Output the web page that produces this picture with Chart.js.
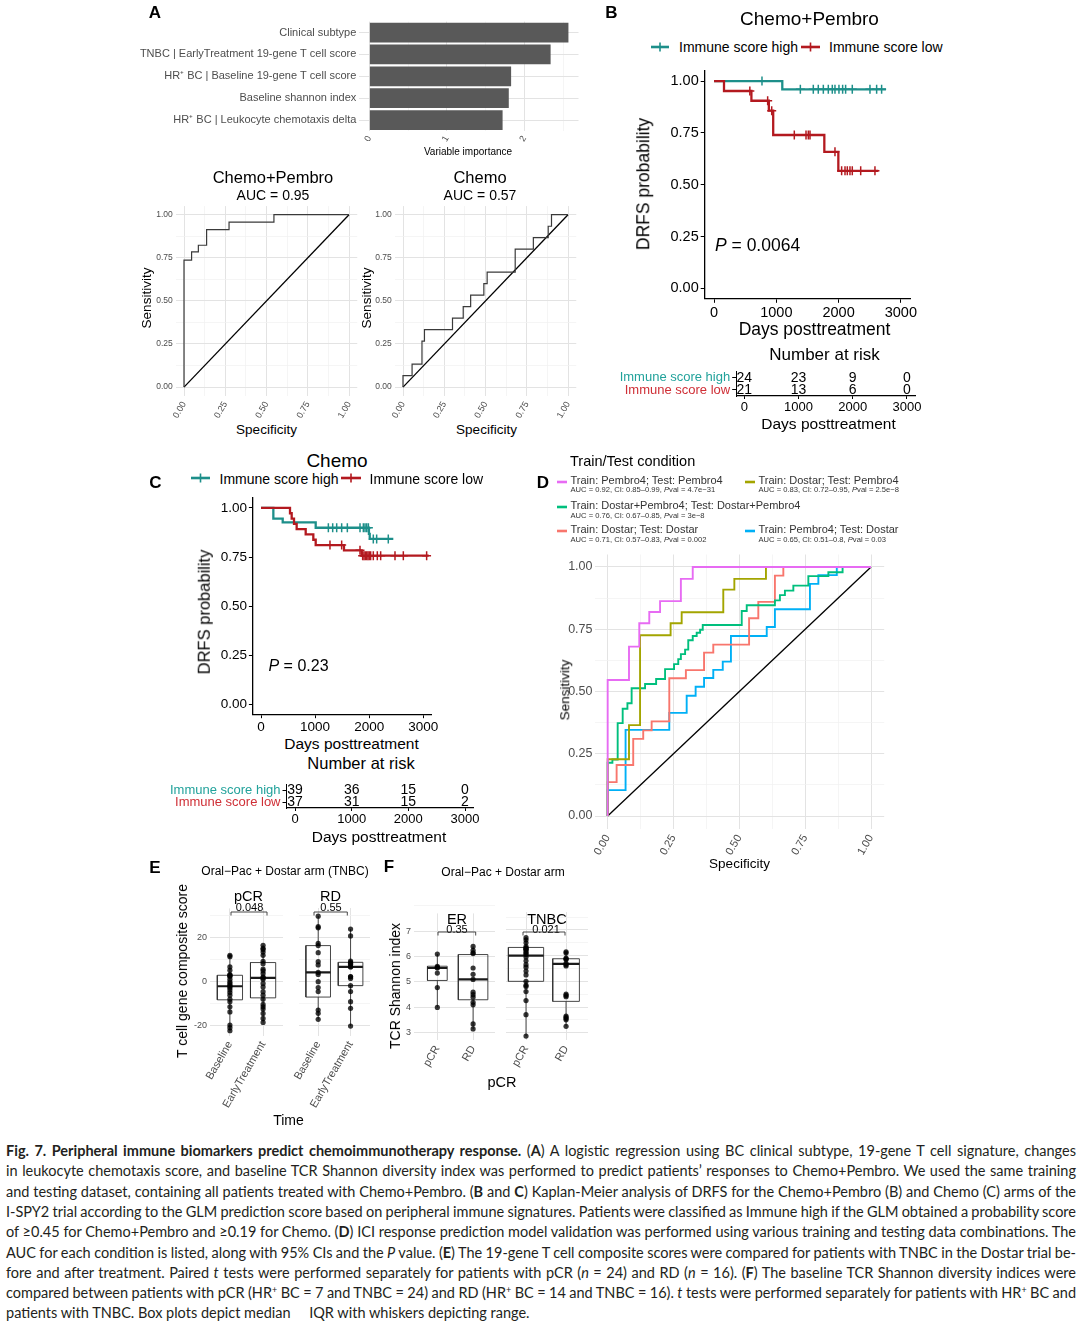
<!DOCTYPE html>
<html><head><meta charset="utf-8">
<script src="https://cdn.jsdelivr.net/npm/chart.js@4.4.1/dist/chart.umd.min.js"></script>
<style>
html,body{margin:0;padding:0;background:#fff;}
#fig{position:relative;width:1080px;height:1327px;overflow:hidden;font-family:"Liberation Sans",Arial,sans-serif;color:#000;}
.t{position:absolute;white-space:nowrap;line-height:1;}
.cap{position:absolute;left:6px;white-space:nowrap;font-family:Lato,"Open Sans",sans-serif;font-size:14.5px;line-height:1;color:#231f20;}
.cap sup{font-size:0.62em;line-height:0;vertical-align:0.5em;}
</style></head><body><div id="fig"></div>
<script>
// ================= DATA =================
// Panel A: variable importance
const impLabels = ["Clinical subtype", "TNBC | EarlyTreatment 19-gene T cell score", "HR\u207A BC | Baseline 19-gene T cell score", "Baseline shannon index", "HR\u207A BC | Leukocyte chemotaxis delta"];
const impValues = [2.57, 2.34, 1.83, 1.80, 1.72];
const impTicks = [0, 1, 2];

// ROC curves (Specificity axis, Sensitivity axis) - staircase corners
const rocTicks = [0, 0.25, 0.5, 0.75, 1];
const rocCPx = [0, 0.046, 0.087, 0.137, 0.273, 0.545, 1];
const rocCPy = [0, 0.737, 0.785, 0.823, 0.913, 0.957, 1];
const rocChx = [0, 0.055, 0.115, 0.13, 0.30, 0.365, 0.41, 0.49, 0.51, 0.68, 0.79, 0.88, 0.90, 1];
const rocChy = [0, 0.067, 0.133, 0.267, 0.333, 0.40, 0.467, 0.533, 0.60, 0.667, 0.80, 0.867, 0.933, 1];

// Kaplan-Meier (days, DRFS probability)
const kmTicks = [0, 1000, 2000, 3000];
const survTicks = [0, 0.25, 0.5, 0.75, 1];
const bHighT = [0, 1096, 2760];
const bHighS = [1, 0.960, 0.960];
const bHighCens = [770, 1386, 1594, 1674, 1755, 1835, 1899, 1942, 2006, 2065, 2113, 2220, 2504, 2611, 2691];
const bLowT = [0, 160, 600, 880, 950, 1771, 1996, 2638];
const bLowS = [1, 0.952, 0.905, 0.857, 0.740, 0.659, 0.567, 0.567];
const bLowCens = [575, 861, 926, 1289, 1477, 1514, 1541, 1942, 2049, 2103, 2140, 2183, 2220, 2355, 2584];
const cHighT = [0, 228, 401, 1011, 1995, 2010, 2446];
const cHighS = [1, 0.946, 0.926, 0.899, 0.868, 0.842, 0.842];
const cHighCens = [1245, 1325, 1399, 1491, 1596, 1830, 1892, 1923, 1954, 1985, 2076, 2138, 2353];
const cLowT = [0, 536, 567, 610, 659, 826, 967, 1011, 1534, 1861, 3100];
const cLowS = [1, 0.973, 0.946, 0.919, 0.892, 0.865, 0.838, 0.811, 0.784, 0.757, 0.757];
const cLowCens = [1275, 1491, 1830, 1879, 1904, 1929, 1954, 1978, 2002, 2027, 2076, 2150, 2212, 2477, 2631, 3062];

// Number at risk
const riskTimes = [0, 1000, 2000, 3000];
const riskGroups = ["Immune score high", "Immune score low"];
const riskHighB = [24, 23, 9, 0];
const riskLowB = [21, 13, 6, 0];
const riskHighC = [39, 36, 15, 0];
const riskLowC = [37, 31, 15, 2];

// Panel D ROC curves
const dNames = ["Train: Pembro4; Test: Pembro4", "Train: Dostar; Test: Pembro4", "Train: Dostar+Pembro4; Test: Dostar+Pembro4", "Train: Dostar; Test: Dostar", "Train: Pembro4; Test: Dostar"];
const dStats = ["AUC = 0.92, CI: 0.85\u20130.99, <i>P</i>val = 4.7e\u221231", "AUC = 0.83, CI: 0.72\u20130.95, <i>P</i>val = 2.5e\u22128", "AUC = 0.76, CI: 0.67\u20130.85, <i>P</i>val = 3e\u22128", "AUC = 0.71, CI: 0.57\u20130.83, <i>P</i>val = 0.002", "AUC = 0.65, CI: 0.51\u20130.8, <i>P</i>val = 0.03"];
const dPembroX = [0, 0.081, 0.12, 0.158, 0.199, 0.278, 0.323, 1];
const dPembroY = [0, 0.546, 0.68, 0.774, 0.819, 0.863, 0.952, 1];
const dDosPemX = [0, 0.081, 0.123, 0.239, 0.281, 0.439, 0.481, 0.601, 1];
const dDosPemY = [0, 0.228, 0.365, 0.726, 0.774, 0.818, 0.909, 0.952, 1];
const dBothX = [0, 0.018, 0.038, 0.057, 0.075, 0.091, 0.142, 0.184, 0.218, 0.252, 0.268, 0.278, 0.294, 0.306, 0.323, 0.338, 0.351, 0.361, 0.509, 0.528, 0.635, 0.654, 0.673, 0.705, 0.762, 0.838, 0.892, 1];
const dBothY = [0, 0.214, 0.227, 0.373, 0.431, 0.453, 0.513, 0.53, 0.55, 0.59, 0.61, 0.63, 0.65, 0.668, 0.706, 0.723, 0.736, 0.748, 0.767, 0.823, 0.846, 0.866, 0.887, 0.905, 0.925, 0.963, 0.979, 1];
const dDostarX = [0, 0.034, 0.097, 0.135, 0.167, 0.234, 0.297, 0.366, 0.401, 0.537, 0.572, 0.635, 0.667, 1];
const dDostarY = [0, 0.136, 0.205, 0.31, 0.344, 0.38, 0.553, 0.586, 0.656, 0.688, 0.794, 0.86, 0.965, 1];
const dPemDosX = [0, 0.068, 0.234, 0.3, 0.334, 0.366, 0.401, 0.437, 0.468, 0.604, 0.635, 0.768, 0.8, 0.87, 1];
const dPemDosY = [0, 0.104, 0.346, 0.414, 0.483, 0.519, 0.554, 0.587, 0.62, 0.723, 0.759, 0.83, 0.932, 0.967, 1];

// Panel E: T cell composite score  [min, q1, median, q3, max] and points
const eCats = ["Baseline", "EarlyTreatment"];
const eTicks = [-20, 0, 20];
const ePcrBaseStats = [-22.6, -8.5, -2.3, 2.7, 11.8];
const ePcrBasePts = [11.8, 11.2, 6.5, 5, 3, 2.8, 2.4, 2.2, 0.9, -0.3, -1, -1.8, -2.3, -3, -4, -5.2, -6.4, -8.2, -9.4, -11.7, -14, -20, -21.2, -22.6];
const ePcrEarlyStats = [-18.8, -7.6, 1.5, 8.5, 16.4];
const ePcrEarlyPts = [16.4, 15, 14.5, 13.3, 11.8, 9.1, 8, 5.5, 4.7, 3.5, 2, 1.5, 0.9, -1, -2.6, -4.8, -6.4, -8.2, -10.6, -11.7, -12.7, -14.7, -17, -18.8];
const eRdBaseStats = [-17.4, -7.3, 3.9, 16.1, 29.5];
const eRdBasePts = [29.5, 24.7, 24.2, 17.1, 16.1, 12.9, 8.8, 7.3, 3.9, 3, -0.3, -3, -4.8, -13.2, -14.7, -17.4];
const eRdEarlyStats = [-20.5, -2.1, 6.4, 8.5, 23.6];
const eRdEarlyPts = [23.6, 20.5, 9.1, 8.5, 8.0, 7.6, 6.5, 6.4, 2, 1.9, 1.2, -2.1, -4.8, -9.4, -12.4, -20.5];

// Panel F: TCR Shannon index
const fCats = ["pCR", "RD"];
const fTicks = [3, 4, 5, 6, 7];
const fErPcrStats = [4.0, 5.06, 5.55, 5.62, 6.1];
const fErPcrPts = [6.1, 5.62, 5.58, 5.55, 5.35, 4.78, 4.0];
const fErRdStats = [3.15, 4.3, 5.1, 6.08, 6.4];
const fErRdPts = [6.4, 6.25, 6.15, 6.12, 5.55, 5.3, 5.1, 4.6, 4.5, 4.4, 4.2, 4.1, 3.35, 3.15];
const fTnPcrStats = [2.87, 5.0, 6.0, 6.32, 6.7];
const fTnPcrPts = [6.7, 6.62, 6.5, 6.35, 6.3, 6.28, 6.25, 6.22, 6.15, 6.1, 6.05, 5.95, 5.8, 5.65, 5.55, 5.4, 5.25, 5.0, 4.85, 4.8, 4.6, 4.25, 3.7, 2.87];
const fTnRdStats = [3.25, 4.22, 5.68, 5.88, 6.15];
const fTnRdPts = [6.15, 6.1, 5.9, 5.88, 5.85, 5.7, 5.65, 5.6, 4.5, 4.45, 4.4, 3.65, 3.6, 3.55, 3.5, 3.25];

// ================= STYLE / HELPERS =================
const TEAL = '#1d8f8a', RED = '#b3191f', TEAL_T = '#22a29b', RED_T = '#cf2f36';
const D_COLORS = ['#E76BF3', '#A3A500', '#00BF7D', '#F8766D', '#00B0F6'];
const fig = document.getElementById('fig');
const FONT = '"Liberation Sans", Arial, sans-serif';
Chart.defaults.font.family = FONT;
Chart.defaults.color = '#4d4d4d';
Chart.defaults.animation = false;
Chart.defaults.events = [];
Chart.defaults.plugins.legend.display = false;
Chart.defaults.plugins.tooltip.enabled = false;

function T(html, x, y, o) {
  o = o || {};
  const d = document.createElement('div');
  d.className = 't';
  d.innerHTML = html;
  d.style.left = x + 'px'; d.style.top = y + 'px';
  d.style.fontSize = (o.size || 12) + 'px';
  if (o.color) d.style.color = o.color;
  if (o.bold) d.style.fontWeight = 'bold';
  const ax = o.align === 'l' ? '0%' : (o.align === 'r' ? '-100%' : '-50%');
  d.style.transform = 'translate(' + ax + ',-50%)' + (o.rot ? ' rotate(' + o.rot + 'deg)' : '');
  fig.appendChild(d);
  return d;
}
function svgEl(x, y, w, h, inner) {
  const s = document.createElementNS('http://www.w3.org/2000/svg', 'svg');
  s.setAttribute('width', w); s.setAttribute('height', h);
  s.style.cssText = 'position:absolute;left:' + x + 'px;top:' + y + 'px;overflow:visible;';
  s.innerHTML = inner;
  fig.appendChild(s);
}
function key(x1, x2, y, color, w, plus) {
  const m = (x2 - x1) / 2;
  let inner = '<line x1="0" y1="0" x2="' + (x2 - x1) + '" y2="0" stroke="' + color + '" stroke-width="' + w + '"/>';
  if (plus) inner += '<line x1="' + m + '" y1="-4.5" x2="' + m + '" y2="4.5" stroke="' + color + '" stroke-width="1.6"/>';
  svgEl(x1, y, x2 - x1, 1, inner);
}
function bracket(x1, x2, y) {
  svgEl(x1, y, x2 - x1, 4, '<path d="M0 3.5 L0 0 L' + (x2 - x1) + ' 0 L' + (x2 - x1) + ' 3.5" fill="none" stroke="#333" stroke-width="0.9"/>');
}
const ticksAt = vals => s => { s.ticks = vals.map(v => ({ value: v })); };
const isIn = (v, arr) => arr.some(a => Math.abs(a - v) < 1e-9);
const withMinors = maj => { const r = []; maj.forEach((v, i) => { r.push(v); if (i < maj.length - 1) r.push((v + maj[i + 1]) / 2); }); return r; };
const mgrid = maj => ({
  drawTicks: false,
  color: c => (c.tick && isIn(c.tick.value, maj)) ? '#e3e3e3' : '#f1f1f1',
  lineWidth: c => (c.tick && isIn(c.tick.value, maj)) ? 1 : 0.7
});
const xy = (xs, ys) => xs.map((x, i) => ({ x: x, y: ys[i] }));
function survAt(T_, S_, t) { let s = S_[0]; for (let i = 0; i < T_.length; i++) { if (T_[i] <= t) s = S_[i]; } return s; }

function mk(box, plot, cfg) {
  const d = document.createElement('div');
  d.style.cssText = 'position:absolute;left:' + box.l + 'px;top:' + box.t + 'px;width:' + (box.r - box.l) + 'px;height:' + (box.b - box.t) + 'px;';
  const c = document.createElement('canvas');
  d.appendChild(c); fig.appendChild(d);
  const o = cfg.options;
  o.responsive = true; o.maintainAspectRatio = false; o.animation = false;
  o.layout = { padding: { left: 0, right: box.r - plot.r, top: plot.t - box.t, bottom: 0 } };
  o.scales.x.afterFit = s => { s.height = box.b - plot.b; };
  o.scales.y.afterFit = s => { s.width = plot.l - box.l; };
  return new Chart(c, cfg);
}

// ================= PANEL A =================
mk({ l: 130, t: 12, r: 598, b: 160 }, { l: 359.3, t: 21, r: 578.5, b: 131 }, {
  type: 'bar',
  data: { labels: impLabels, datasets: [{ data: impValues, backgroundColor: '#595959', barPercentage: 0.9, categoryPercentage: 1 }] },
  options: {
    indexAxis: 'y',
    scales: {
      x: { type: 'linear', min: -0.13, max: 2.7, afterBuildTicks: ticksAt(withMinors([0, 1, 2, 3]).filter(v => v <= 2.7)),
        ticks: { autoSkip: false, minRotation: 60, maxRotation: 60, font: { size: 9 }, padding: 3, callback: v => isIn(v, impTicks) ? String(v) : '' },
        grid: mgrid(impTicks), border: { display: false } },
      y: { ticks: { font: { size: 11 }, padding: 3, color: '#4d4d4d' }, grid: { offset: false, color: '#e3e3e3', drawTicks: false }, border: { display: false } }
    }
  }
});
T('A', 155, 12, { size: 17, bold: true });
T('Variable importance', 468, 152, { size: 10 });

// ================= ROC (A lower) =================
function roc(box, plot, xs, ys) {
  const allT = withMinors(rocTicks);
  mk(box, plot, {
    type: 'line',
    data: { datasets: [
      { data: xy(xs, ys), stepped: 'after', borderColor: '#3a3a3a', borderWidth: 1.2, pointRadius: 0 },
      { data: [{ x: 0, y: 0 }, { x: 1, y: 1 }], borderColor: '#000', borderWidth: 1.3, pointRadius: 0 }
    ] },
    options: { scales: {
      x: { type: 'linear', min: -0.05, max: 1.05, afterBuildTicks: ticksAt(allT),
        ticks: { autoSkip: false, minRotation: 60, maxRotation: 60, font: { size: 9 }, padding: 4, callback: v => isIn(v, rocTicks) ? v.toFixed(2) : '' },
        grid: mgrid(rocTicks), border: { display: false } },
      y: { type: 'linear', min: -0.05, max: 1.05, afterBuildTicks: ticksAt(allT),
        ticks: { font: { size: 8.5 }, padding: 3, callback: v => isIn(v, rocTicks) ? v.toFixed(2) : '' },
        grid: mgrid(rocTicks), border: { display: false } }
    } }
  });
}
roc({ l: 150, t: 198, r: 365, b: 420 }, { l: 175.75, t: 204.3, r: 357.25, b: 395.7 }, rocCPx, rocCPy);
roc({ l: 370, t: 198, r: 585, b: 420 }, { l: 394.75, t: 204.3, r: 576.25, b: 395.7 }, rocChx, rocChy);
T('Chemo+Pembro', 273, 177, { size: 16.5 });
T('AUC = 0.95', 273, 195, { size: 14 });
T('Sensitivity', 146.5, 298, { size: 13.5, rot: -90 });
T('Specificity', 266.5, 430, { size: 13.5 });
T('Chemo', 480, 177, { size: 16.5 });
T('AUC = 0.57', 480, 195, { size: 14 });
T('Sensitivity', 366.5, 298, { size: 13.5, rot: -90 });
T('Specificity', 486.5, 430, { size: 13.5 });

// ================= KM helpers =================
function km(box, plot, series, tf) {
  const ds = [];
  series.forEach(s => {
    ds.push({ data: s.C.map(t => ({ x: t, y: survAt(s.T, s.S, t) })), showLine: false, pointStyle: 'cross', pointRadius: 4.5, pointBorderWidth: 1.5, pointBorderColor: s.color, pointBackgroundColor: s.color });
    ds.push({ data: xy(s.T, s.S), stepped: 'before', borderColor: s.color, borderWidth: 2.3, pointRadius: 0 });
  });
  mk(box, plot, {
    type: 'line', data: { datasets: ds },
    options: { scales: {
      x: { type: 'linear', min: -150, max: 3150, afterBuildTicks: ticksAt(kmTicks),
        ticks: { autoSkip: false, maxRotation: 0, font: { size: tf }, color: '#000', padding: 1, callback: v => String(v) },
        grid: { drawOnChartArea: false, drawTicks: true, tickLength: 4, color: '#000' }, border: { display: true, color: '#000', width: 1.3 } },
      y: { type: 'linear', min: -0.05, max: 1.05, afterBuildTicks: ticksAt(survTicks),
        ticks: { font: { size: tf }, color: '#000', padding: 2, callback: v => v.toFixed(2) },
        grid: { drawOnChartArea: false, drawTicks: true, tickLength: 4, color: '#000' }, border: { display: true, color: '#000', width: 1.3 } }
    } }
  });
}
function risk(box, plot, high, low, nf, lf, tf) {
  mk(box, plot, {
    type: 'line', data: { datasets: [{ data: [] }] },
    options: { scales: {
      x: { type: 'linear', min: -150, max: 3150, afterBuildTicks: ticksAt(riskTimes),
        ticks: { autoSkip: false, maxRotation: 0, font: { size: tf }, color: '#000', padding: 1, callback: v => String(v) },
        grid: { drawOnChartArea: false, tickLength: 3, color: '#000' }, border: { display: true, color: '#000', width: 1.2 } },
      y: { type: 'linear', min: 0.5, max: 2.5, afterBuildTicks: ticksAt([1, 2]),
        ticks: { font: { size: lf }, padding: 2, color: c => (c.tick && c.tick.value === 2) ? TEAL_T : RED_T, callback: v => v === 2 ? riskGroups[0] : riskGroups[1] },
        grid: { drawOnChartArea: false, tickLength: 4, color: '#000' }, border: { display: true, color: '#000', width: 1 } }
    } },
    plugins: [{ id: 'nums', afterDatasetsDraw(ch) {
      const ctx = ch.ctx, sx = ch.scales.x, sy = ch.scales.y;
      ctx.save(); ctx.font = nf + 'px ' + FONT; ctx.fillStyle = '#000'; ctx.textAlign = 'center'; ctx.textBaseline = 'middle';
      riskTimes.forEach((t, i) => {
        ctx.fillText(String(high[i]), sx.getPixelForValue(t), sy.getPixelForValue(2));
        ctx.fillText(String(low[i]), sx.getPixelForValue(t), sy.getPixelForValue(1));
      });
      ctx.restore();
    } }]
  });
}

// ================= PANEL B =================
km({ l: 640, t: 60, r: 940, b: 330 }, { l: 704.7, t: 68.5, r: 910.2, b: 298.8 }, [
  { T: bLowT, S: bLowS, C: bLowCens, color: RED },
  { T: bHighT, S: bHighS, C: bHighCens, color: TEAL }
], 14.5);
risk({ l: 600, t: 362, r: 945, b: 415 }, { l: 736.2, t: 371, r: 915.1, b: 396 }, riskHighB, riskLowB, 14, 13, 13);
T('B', 611.5, 11.5, { size: 17, bold: true });
T('Chemo+Pembro', 809.5, 17.5, { size: 19 });
key(651, 669, 46.5, TEAL, 2.6, true);
T('Immune score high', 679, 47, { size: 14, align: 'l' });
key(801, 820, 46.5, RED, 2.6, true);
T('Immune score low', 829, 47, { size: 14, align: 'l' });
T('DRFS probability', 643.5, 184, { size: 17.5, rot: -90 });
T('<i>P</i> = 0.0064', 715, 246, { size: 17.5, align: 'l' });
T('Days posttreatment', 814.5, 329.5, { size: 17.5 });
T('Number at risk', 824.5, 353.5, { size: 17 });
T('Days posttreatment', 828.5, 423.5, { size: 15.5 });

// ================= PANEL C =================
km({ l: 200, t: 488, r: 460, b: 735 }, { l: 252.9, t: 496.1, r: 431.4, b: 714.2 }, [
  { T: cLowT, S: cLowS, C: cLowCens, color: RED },
  { T: cHighT, S: cHighS, C: cHighCens, color: TEAL }
], 13.5);
risk({ l: 150, t: 775, r: 500, b: 830 }, { l: 286.5, t: 783, r: 473.5, b: 808 }, riskHighC, riskLowC, 14, 13, 13);
T('C', 155.5, 481.5, { size: 17, bold: true });
T('Chemo', 337, 459.5, { size: 19 });
key(191, 210, 478, TEAL, 2.6, true);
T('Immune score high', 219.5, 478.5, { size: 14, align: 'l' });
key(341, 361, 478, RED, 2.6, true);
T('Immune score low', 369.5, 478.5, { size: 14, align: 'l' });
T('DRFS probability', 203.5, 611.5, { size: 16.5, rot: -90 });
T('<i>P</i> = 0.23', 268.5, 665.5, { size: 16, align: 'l' });
T('Days posttreatment', 351.5, 743.5, { size: 15.5 });
T('Number at risk', 361, 763, { size: 16.5 });
T('Days posttreatment', 379, 837, { size: 15.5 });

// ================= PANEL D =================
const dX = [dPembroX, dDosPemX, dBothX, dDostarX, dPemDosX];
const dY = [dPembroY, dDosPemY, dBothY, dDostarY, dPemDosY];
const dAll = withMinors(rocTicks);
mk({ l: 568, t: 545, r: 900, b: 862 }, { l: 594.5, t: 553.2, r: 884.2, b: 828.5 }, {
  type: 'line',
  data: { datasets: dX.map((xs, i) => ({ data: xy(xs, dY[i]), stepped: 'after', borderColor: D_COLORS[i], borderWidth: 1.9, pointRadius: 0 }))
    .concat([{ data: [{ x: 0, y: 0 }, { x: 1, y: 1 }], borderColor: '#000', borderWidth: 1.3, pointRadius: 0 }]) },
  options: { scales: {
    x: { type: 'linear', min: -0.05, max: 1.05, afterBuildTicks: ticksAt(dAll),
      ticks: { autoSkip: false, minRotation: 60, maxRotation: 60, font: { size: 11 }, padding: 4, callback: v => isIn(v, rocTicks) ? v.toFixed(2) : '' },
      grid: mgrid(rocTicks), border: { display: false } },
    y: { type: 'linear', min: -0.05, max: 1.05, afterBuildTicks: ticksAt(dAll),
      ticks: { font: { size: 12.5 }, padding: 2, callback: v => isIn(v, rocTicks) ? v.toFixed(2) : '' },
      grid: mgrid(rocTicks), border: { display: false } }
  } }
});
T('D', 543, 482, { size: 17, bold: true });
T('Train/Test condition', 570, 461, { size: 14.5, align: 'l' });
const dLeg = [[557, 479.5, 490], [745, 479.5, 490], [557, 505, 516], [557, 528.5, 539.5], [745, 528.5, 539.5]];
dLeg.forEach((p, i) => {
  key(p[0], p[0] + 10, p[1] + 2, D_COLORS[i], 2.6, false);
  T(dNames[i], p[0] + 13.5, p[1], { size: 11, color: '#333', align: 'l' });
  T(dStats[i], p[0] + 13.5, p[2], { size: 7.6, color: '#333', align: 'l' });
});
T('Sensitivity', 565, 690, { size: 13.5, rot: -90 });
T('Specificity', 739.5, 864, { size: 13.5 });

// ================= PANEL E / F (faceted box plots) =================
function facet(box, plot, xr, yr, maj, showY, cats, groups) {
  const ds = [];
  groups.forEach(g => {
    const st = g.st, x = g.x, hw = g.hw;
    ds.push({ data: g.pts.map(v => ({ x: x, y: v })), showLine: false, pointRadius: 2.6, pointBackgroundColor: 'rgba(0,0,0,0.78)', pointBorderWidth: 0, order: 0 });
    ds.push({ data: [{ x: x - hw, y: st[2] }, { x: x + hw, y: st[2] }], borderColor: '#1a1a1a', borderWidth: 2.2, pointRadius: 0, order: 1 });
    ds.push({ data: [{ x: x - hw, y: st[1] }, { x: x + hw, y: st[1] }, { x: x + hw, y: st[3] }, { x: x - hw, y: st[3] }, { x: x - hw, y: st[1] }], borderColor: '#333', borderWidth: 0.9, pointRadius: 0, order: 2 });
    ds.push({ data: [{ x: x, y: st[0] }, { x: x, y: st[1] }], borderColor: '#333', borderWidth: 0.9, pointRadius: 0, order: 2 });
    ds.push({ data: [{ x: x, y: st[3] }, { x: x, y: st[4] }], borderColor: '#333', borderWidth: 0.9, pointRadius: 0, order: 2 });
  });
  const allY = withMinors(maj.concat([maj[maj.length - 1] + (maj[1] - maj[0])]));
  mk(box, plot, {
    type: 'line', data: { datasets: ds },
    options: { scales: {
      x: { type: 'linear', min: xr[0], max: xr[1], afterBuildTicks: ticksAt([1, 2]),
        ticks: { autoSkip: false, minRotation: 60, maxRotation: 60, font: { size: 11 }, padding: 3, callback: v => cats[Math.round(v) - 1] },
        grid: { drawTicks: false, color: '#e3e3e3' }, border: { display: false } },
      y: { type: 'linear', min: yr[0], max: yr[1], afterBuildTicks: ticksAt(allY),
        ticks: { display: showY, font: { size: 9 }, padding: 3, callback: v => isIn(v, maj) ? String(v) : '' },
        grid: mgrid(maj), border: { display: false } }
    } }
  });
}
// E
facet({ l: 180, t: 900, r: 287, b: 1118 }, { l: 210, t: 908, r: 287, b: 1036 }, [0.4, 2.6], [-25, 33.2], eTicks, true, eCats, [
  { x: 1, hw: 0.38, st: ePcrBaseStats, pts: ePcrBasePts },
  { x: 2, hw: 0.38, st: ePcrEarlyStats, pts: ePcrEarlyPts }
]);
facet({ l: 292.5, t: 900, r: 375, b: 1118 }, { l: 292.5, t: 908, r: 369.5, b: 1036 }, [0.4, 2.6], [-25, 33.2], eTicks, false, eCats, [
  { x: 1, hw: 0.38, st: eRdBaseStats, pts: eRdBasePts },
  { x: 2, hw: 0.38, st: eRdEarlyStats, pts: eRdEarlyPts }
]);
T('E', 155, 867, { size: 17, bold: true });
T('Oral\u2212Pac + Dostar arm (TNBC)', 285, 871, { size: 12 });
T('pCR', 248.5, 896, { size: 14.5 });
T('RD', 330.5, 896, { size: 14.5 });
T('0.048', 249.5, 906.5, { size: 11 });
T('0.55', 331, 906.5, { size: 11 });
bracket(230.7, 266.7, 911.7);
bracket(314, 347.3, 911.7);
T('T cell gene composite score', 181.7, 971, { size: 14, rot: -90 });
T('Time', 288.5, 1120, { size: 14 });
// F
facet({ l: 384, t: 905, r: 499, b: 1075 }, { l: 414, t: 912, r: 499, b: 1040.4 }, [0.347, 2.613], [2.7, 7.7], fTicks, true, fCats, [
  { x: 1, hw: 0.276, st: fErPcrStats, pts: fErPcrPts },
  { x: 2, hw: 0.413, st: fErRdStats, pts: fErRdPts }
]);
facet({ l: 502, t: 905, r: 595, b: 1075 }, { l: 502, t: 912, r: 588, b: 1040.4 }, [0.5, 2.548], [2.7, 7.7], fTicks, false, fCats, [
  { x: 1, hw: 0.44, st: fTnPcrStats, pts: fTnPcrPts },
  { x: 2, hw: 0.333, st: fTnRdStats, pts: fTnRdPts }
]);
T('F', 389, 866, { size: 17, bold: true });
T('Oral\u2212Pac + Dostar arm', 503, 871.5, { size: 12 });
T('ER', 457, 919, { size: 14.5 });
T('TNBC', 547, 919, { size: 14.5 });
T('0.35', 457, 928.5, { size: 11 });
T('0.021', 546, 928.5, { size: 11 });
bracket(438.3, 476, 932.3);
bracket(523, 565, 932.3);
T('TCR Shannon index', 395, 986, { size: 14, rot: -90 });
T('pCR', 502, 1082, { size: 14.5 });

// ================= CAPTION =================
const capLines = [
  '<b>Fig. 7. Peripheral immune biomarkers predict chemoimmunotherapy response.</b> (<b>A</b>) A logistic regression using BC clinical subtype, 19-gene T cell signature, changes',
  'in leukocyte chemotaxis score, and baseline TCR Shannon diversity index was performed to predict patients\u2019 responses to Chemo+Pembro. We used the same training',
  'and testing dataset, containing all patients treated with Chemo+Pembro. (<b>B</b> and <b>C</b>) Kaplan-Meier analysis of DRFS for the Chemo+Pembro (B) and Chemo (C) arms of the',
  'I-SPY2 trial according to the GLM prediction score based on peripheral immune signatures. Patients were classified as Immune high if the GLM obtained a probability score',
  'of \u22650.45 for Chemo+Pembro and \u22650.19 for Chemo. (<b>D</b>) ICI response prediction model validation was performed using various training and testing data combinations. The',
  'AUC for each condition is listed, along with 95% CIs and the <i>P</i> value. (<b>E</b>) The 19-gene T cell composite scores were compared for patients with TNBC in the Dostar trial be-',
  'fore and after treatment. Paired <i>t</i> tests were performed separately for patients with pCR (<i>n</i> = 24) and RD (<i>n</i> = 16). (<b>F</b>) The baseline TCR Shannon diversity indices were',
  'compared between patients with pCR (HR<sup>+</sup> BC = 7 and TNBC = 24) and RD (HR<sup>+</sup> BC = 14 and TNBC = 16). <i>t</i> tests were performed separately for patients with HR<sup>+</sup> BC and',
  'patients with TNBC. Box plots depict median &nbsp;&nbsp;&nbsp; IQR with whiskers depicting range.'
];
capLines.forEach((h, i) => {
  const d = document.createElement('div');
  d.className = 'cap';
  d.innerHTML = h;
  d.style.top = (1151 + i * 20.3) + 'px';
  d.style.transform = 'translateY(-50%)';
  fig.appendChild(d);
  if (i < capLines.length - 1) {
    const w = d.getBoundingClientRect().width;
    const spaces = (d.textContent.match(/ /g) || []).length;
    const extra = 1070 - w;
    if (extra / spaces >= -1.2) {
      d.style.wordSpacing = (extra / spaces) + 'px';
    } else {
      d.style.transformOrigin = 'left center';
      d.style.transform = 'translateY(-50%) scaleX(' + (1070 / w) + ')';
    }
  }
});
</script></body></html>
